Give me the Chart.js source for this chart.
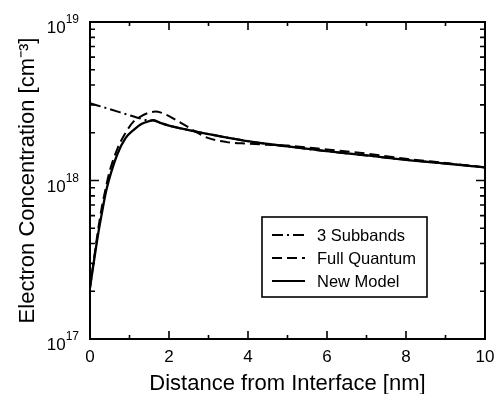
<!DOCTYPE html>
<html>
<head>
<meta charset="utf-8">
<script src="https://cdn.jsdelivr.net/npm/chart.js@4/dist/chart.umd.min.js"></script>
<style>
  html, body { margin: 0; padding: 0; background: #fff; }
  #wrap { width: 495px; height: 394px; }
</style>
</head>
<body>
<div id="wrap"><canvas id="mycanvas" width="495" height="394"></canvas></div>
<script>
// distance from interface [nm] and electron concentration [cm^-3]
var newModelX = [0, 0.1, 0.2, 0.3, 0.4, 0.5, 0.7, 0.9, 1.1, 1.3, 1.5, 1.6, 1.8, 2.0, 2.5, 3, 3.5, 4, 5, 6, 7, 8, 9, 10];
var newModelY = [2.1e17, 3.1e17, 4.5e17, 6.2e17, 8.4e17, 1.05e18, 1.48e18, 1.85e18, 2.08e18, 2.27e18, 2.37e18, 2.4e18, 2.3e18, 2.22e18, 2.08e18, 1.96e18, 1.86e18, 1.77e18, 1.64e18, 1.53e18, 1.44e18, 1.35e18, 1.28e18, 1.21e18];

var fullQuantumX = [0, 0.1, 0.2, 0.3, 0.4, 0.5, 0.7, 0.9, 1.1, 1.3, 1.5, 1.65, 1.8, 2.0, 2.25, 2.5, 2.75, 3, 3.5, 4, 4.5, 5, 6, 7, 8, 9, 10];
var fullQuantumY = [2.1e17, 3.2e17, 4.8e17, 6.8e17, 9.0e17, 1.15e18, 1.6e18, 2.0e18, 2.35e18, 2.55e18, 2.68e18, 2.72e18, 2.68e18, 2.55e18, 2.35e18, 2.16e18, 1.98e18, 1.85e18, 1.74e18, 1.71e18, 1.68e18, 1.66e18, 1.57e18, 1.48e18, 1.37e18, 1.29e18, 1.21e18];

var subbandsX = [0, 0.5, 1.0, 1.3, 1.5, 1.6, 1.8, 2.0, 2.5, 3, 3.5, 4, 5, 6, 7, 8, 9, 10];
var subbandsY = [3.07e18, 2.82e18, 2.58e18, 2.45e18, 2.39e18, 2.4e18, 2.3e18, 2.22e18, 2.08e18, 1.96e18, 1.86e18, 1.77e18, 1.64e18, 1.53e18, 1.44e18, 1.35e18, 1.28e18, 1.21e18];

var xTicks = [0, 2, 4, 6, 8, 10];
var yDecades = [17, 18, 19];
var legendNames = ['3 Subbands', 'Full Quantum', 'New Model'];

var FONT = "'Liberation Sans', Arial, Helvetica, sans-serif";
var DASH_DOT = [11, 4, 2, 4];
var DASHED = [10, 5];

function pts(xs, ys) {
    var out = [];
    for (var i in xs) {
        out.push({x: xs[i], y: ys[i]});
    }
    return out;
}

// top and right edges of the box
var frameEdges = {
    id: 'frameEdges',
    beforeDatasetsDraw: function(chart) {
        var a = chart.chartArea, g = chart.ctx;
        g.save();
        g.strokeStyle = '#000';
        g.lineWidth = 2;
        g.beginPath();
        g.moveTo(a.left, a.top); g.lineTo(a.right, a.top); g.lineTo(a.right, a.bottom);
        g.stroke();
        g.restore();
    }
};

// tick marks pointing inside on all four sides + y labels with exponents
var frameTicks = {
    id: 'frameTicks',
    afterDraw: function(chart) {
        var ctx = chart.ctx, a = chart.chartArea;
        var sx = chart.scales.x, sy = chart.scales.y;
        ctx.save();
        ctx.strokeStyle = '#000';
        ctx.lineWidth = 1.6;
        ctx.beginPath();
        for (var v = 0; v <= 10; v++) {
            var px = sx.getPixelForValue(v);
            var len = (v % 2 === 0) ? 8 : 4;
            ctx.moveTo(px, a.bottom); ctx.lineTo(px, a.bottom - len);
            ctx.moveTo(px, a.top); ctx.lineTo(px, a.top + len);
        }
        for (var d = 17; d <= 18; d++) {
            for (var k = 1; k <= 10; k++) {
                var py = sy.getPixelForValue(k * Math.pow(10, d));
                var l = (k === 1 || k === 10) ? 9 : 5;
                ctx.moveTo(a.left, py); ctx.lineTo(a.left + l, py);
                ctx.moveTo(a.right, py); ctx.lineTo(a.right - l, py);
            }
        }
        ctx.stroke();

        ctx.fillStyle = '#000';
        ctx.textAlign = 'right';
        ctx.textBaseline = 'alphabetic';
        for (var i in yDecades) {
            var yy = sy.getPixelForValue(Math.pow(10, yDecades[i]));
            ctx.font = '12px ' + FONT;
            var ew = ctx.measureText(String(yDecades[i])).width;
            ctx.fillText(String(yDecades[i]), 79, yy + 1);
            ctx.font = '17px ' + FONT;
            ctx.fillText('10', 79 - ew, yy + 11);
        }
        ctx.restore();
    }
};

var boxLegend = {
    id: 'boxLegend',
    afterDatasetsDraw: function(chart) {
        var ctx = chart.ctx;
        var left = 262, top = 217, w = 165, h = 80;
        var dashes = [DASH_DOT, DASHED, []];
        ctx.save();
        ctx.fillStyle = '#fff';
        ctx.fillRect(left, top, w, h);
        ctx.strokeStyle = '#000';
        ctx.lineWidth = 1.6;
        ctx.strokeRect(left, top, w, h);
        ctx.font = '16.5px ' + FONT;
        ctx.fillStyle = '#000';
        ctx.textBaseline = 'middle';
        ctx.textAlign = 'left';
        for (var i in legendNames) {
            var ry = 235 + i * 23;
            ctx.beginPath();
            ctx.setLineDash(dashes[i]);
            ctx.lineWidth = 1.8;
            ctx.moveTo(272, ry); ctx.lineTo(305, ry);
            ctx.stroke();
            ctx.setLineDash([]);
            ctx.fillText(legendNames[i], 317, ry + 1);
        }
        ctx.restore();
    }
};

var chardata = {
    datasets: [
        {
            label: legendNames[0],
            data: pts(subbandsX, subbandsY),
            borderColor: '#000',
            borderWidth: 2,
            borderDash: DASH_DOT
        },
        {
            label: legendNames[1],
            data: pts(fullQuantumX, fullQuantumY),
            borderColor: '#000',
            borderWidth: 2,
            borderDash: DASHED
        },
        {
            label: legendNames[2],
            data: pts(newModelX, newModelY),
            borderColor: '#000',
            borderWidth: 2.3
        }
    ]
};

var ctx = document.getElementById('mycanvas');
var chart = new Chart(ctx, {
    type: 'line',
    data: chardata,
    plugins: [frameEdges, frameTicks, boxLegend],
    options: {
        responsive: false,
        animation: false,
        layout: { padding: { top: 22, right: 10, left: 0, bottom: 0 } },
        elements: {
            point: { radius: 0 },
            line: { tension: 0.4, cubicInterpolationMode: 'monotone', fill: false }
        },
        plugins: {
            legend: { display: false },
            tooltip: { enabled: false }
        },
        scales: {
            x: {
                type: 'linear',
                min: 0,
                max: 10,
                afterFit: function(s) {
                    s.height = 55;
                    s.paddingLeft = 0;
                    s.paddingRight = 0;
                },
                afterBuildTicks: function(s) {
                    s.ticks = xTicks.map(function(v) { return {value: v}; });
                },
                grid: { display: false, drawTicks: false },
                border: { display: true, color: '#000', width: 2 },
                ticks: { color: '#000', padding: 8, font: { family: FONT, size: 17 }, maxRotation: 0 },
                title: {
                    display: true,
                    text: 'Distance from Interface [nm]',
                    color: '#000',
                    font: { family: FONT, size: 22, lineHeight: 0.9 },
                    padding: { top: 0, bottom: 0 }
                }
            },
            y: {
                type: 'logarithmic',
                min: 1e17,
                max: 1e19,
                afterFit: function(s) {
                    s.width = 90;
                    s.paddingTop = 0;
                    s.paddingBottom = 0;
                },
                grid: { display: false, drawTicks: false },
                border: { display: true, color: '#000', width: 2 },
                ticks: { display: false },
                title: {
                    display: true,
                    text: 'Electron Concentration [cm\u207B\u00B3]',
                    color: '#000',
                    font: { family: FONT, size: 22 },
                    padding: { top: 15, bottom: 0 }
                }
            }
        }
    }
});
</script>
</body>
</html>
